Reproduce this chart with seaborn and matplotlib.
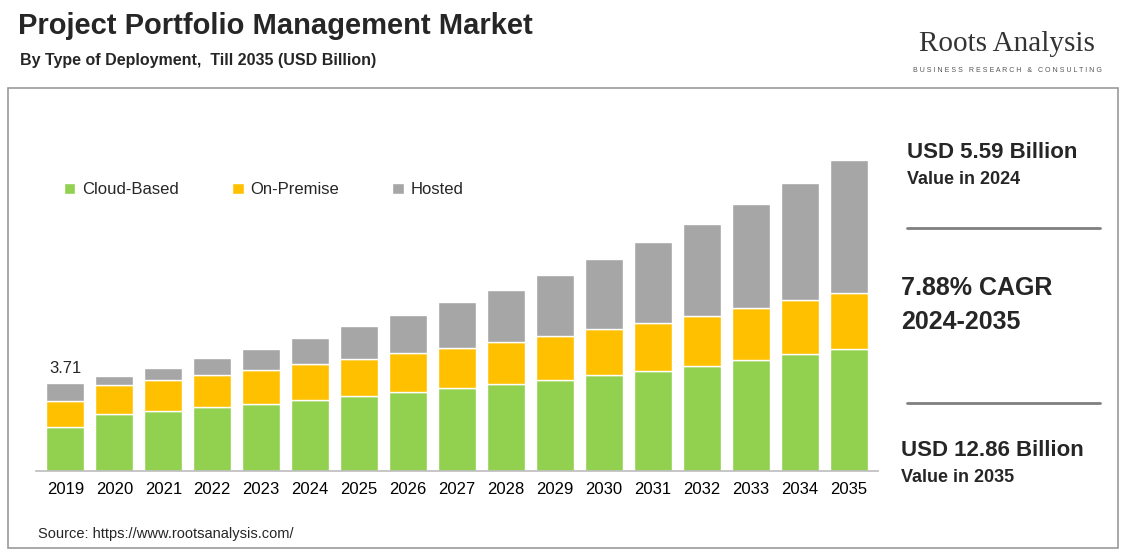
import matplotlib
matplotlib.use("Agg")
import matplotlib.pyplot as plt
import seaborn as sns
import pandas as pd
import numpy as np

years = [str(y) for y in range(2019, 2036)]
cloud = [1.86, 2.40, 2.53, 2.70, 2.83, 3.00, 3.16, 3.33, 3.50, 3.67, 3.84, 4.05, 4.22, 4.43, 4.68, 4.94, 5.15]
onprem = [1.10, 1.22, 1.31, 1.35, 1.43, 1.52, 1.56, 1.65, 1.69, 1.77, 1.86, 1.94, 2.03, 2.11, 2.19, 2.28, 2.36]
hosted = [0.75, 0.38, 0.51, 0.72, 0.89, 1.07, 1.39, 1.60, 1.94, 2.19, 2.57, 2.95, 3.42, 3.88, 4.39, 4.94, 5.61]
series = ["Cloud-Based", "On-Premise", "Hosted"]
colors = ["#92d050", "#ffc000", "#a6a6a6"]

sns.set_theme(style="white")
plt.rcParams['font.family'] = ['Liberation Sans', 'DejaVu Sans']

fig = plt.figure(figsize=(11.23, 5.53), dpi=100)
W, H = 1123, 553
ax = fig.add_axes([36/W, 1-471/H, (878-36)/W, (471-120)/H])

df = pd.DataFrame({"year": years, "Cloud-Based": cloud, "On-Premise": onprem, "Hosted": hosted})
bottom = np.zeros(len(years))
for s, c in zip(series, colors):
    ax.bar(np.arange(len(years)), df[s], bottom=bottom, color=c, width=0.78, label=s, zorder=2)
    bottom = bottom + df[s].values
sns.despine(ax=ax, left=True, top=True, right=True)
ax.set_xlim(-0.6, len(years)-0.4)
ax.set_ylim(0, 14.8)
ax.set_yticks([])
ax.set_xticks(np.arange(len(years)))
ax.set_xticklabels(years, fontsize=12, color="black")
ax.tick_params(axis='x', length=0, pad=8)
ax.spines['bottom'].set_color('#bfbfbf')
ax.text(0, bottom[0] + 0.3, "3.71", ha='center', va='bottom', fontsize=12)
ax.legend(loc='upper left', bbox_to_anchor=(0.015, 0.865), ncol=3, frameon=False, fontsize=12,
          handlelength=0.7, handleheight=0.7, columnspacing=3.2, handletextpad=0.4)

fig.text(18/W, 1-26/H, "Project Portfolio Management Market", fontsize=21, fontweight='bold', va='center')
fig.text(20/W, 1-60/H, "By Type of Deployment,  Till 2035 (USD Billion)", fontsize=11.5, fontweight='bold', va='center')
fig.text(1007/W, 1-44/H, "Roots Analysis", fontsize=21, ha='center', va='center', family=['Liberation Serif'], color='#333333')
fig.text(1007/W, 1-70/H, "B U S I N E S S   R E S E A R C H   &   C O N S U L T I N G", fontsize=5, ha='center', va='center', color='#555555')
fig.text(38/W, 1-534/H, "Source: https://www.rootsanalysis.com/", fontsize=10.5, va='center')

fig.add_artist(plt.Rectangle((8/W, 1-548/H), 1110/W, (548-88)/H, transform=fig.transFigure,
                             fill=False, edgecolor='#999999', lw=1.2))
fig.text(907/W, 1-152/H, "USD 5.59 Billion", fontsize=16, fontweight='bold', va='center')
fig.text(907/W, 1-180/H, "Value in 2024", fontsize=13, fontweight='bold', va='center')
fig.text(901/W, 1-288/H, "7.88% CAGR", fontsize=18, fontweight='bold', va='center')
fig.text(901/W, 1-322/H, "2024-2035", fontsize=18, fontweight='bold', va='center')
fig.text(901/W, 1-450/H, "USD 12.86 Billion", fontsize=16, fontweight='bold', va='center')
fig.text(901/W, 1-478/H, "Value in 2035", fontsize=13, fontweight='bold', va='center')
for y in (228, 403):
    fig.add_artist(plt.Line2D([907/W, 1100/W], [1-y/H, 1-y/H], color='#7f7f7f', lw=2))

fig.savefig("out.png", dpi=100)
